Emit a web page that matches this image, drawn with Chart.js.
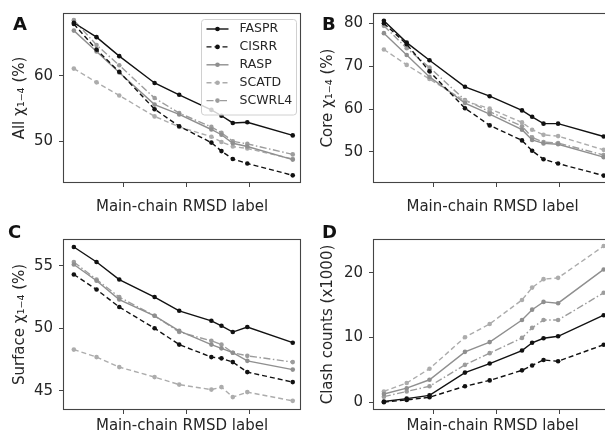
<!DOCTYPE html>
<html>
<head>
<meta charset="utf-8">
<script src="https://cdn.jsdelivr.net/npm/chart.js@4.4.1/dist/chart.umd.min.js"></script>
<style>
  body { margin: 0; background: #fff; width: 605px; height: 442px; overflow: hidden; position: relative; }
  canvas { position: absolute; }
</style>
</head>
<body>
<canvas id="panelA" width="305" height="221" style="left:0px;top:0px"></canvas>
<canvas id="panelB" width="320" height="221" style="left:300px;top:0px"></canvas>
<canvas id="panelC" width="305" height="221" style="left:0px;top:221px"></canvas>
<canvas id="panelD" width="320" height="221" style="left:300px;top:221px"></canvas>
<script>
// x 軸：主鏈 RMSD 標籤 (刻度不顯示數字)
const rmsdLabels = [0.22, 0.58, 0.94, 1.50, 1.89, 2.40, 2.56, 2.74, 2.97, 3.69];
const xTickValues = [1, 2, 3];
const methodNames = ['FASPR', 'CISRR', 'RASP', 'SCATD', 'SCWRL4'];

// A: All chi1-4 (%)
const allFASPR  = [68.1, 65.9, 63.0, 58.9, 57.1, 54.8, 53.9, 52.8, 52.9, 50.9];
const allCISRR  = [67.9, 64.0, 60.6, 54.9, 52.3, 49.8, 48.5, 47.3, 46.6, 44.8];
const allRASP   = [66.9, 63.7, 60.5, 55.6, 54.1, 51.8, 51.0, 49.7, 49.2, 47.2];
const allSCATD  = [61.1, 59.0, 57.0, 53.8, 52.2, 50.7, 49.9, 49.2, 48.9, 47.3];
const allSCWRL4 = [68.5, 64.7, 61.6, 56.6, 54.3, 52.2, 51.3, 50.0, 49.6, 48.0];
const allTicks  = [50, 60];

// B: Core chi1-4 (%)
const coreFASPR  = [80.6, 75.5, 71.4, 65.2, 63.0, 59.7, 58.2, 56.6, 56.6, 53.6];
const coreCISRR  = [80.0, 75.1, 68.8, 60.2, 56.2, 52.7, 50.3, 48.3, 47.3, 44.5];
const coreRASP   = [77.7, 72.6, 67.5, 61.4, 58.8, 55.2, 52.8, 52.0, 51.8, 48.8];
const coreSCATD  = [73.9, 70.3, 67.0, 61.9, 60.1, 56.9, 55.2, 54.0, 53.7, 50.5];
const coreSCWRL4 = [79.4, 74.2, 69.7, 62.1, 59.4, 56.0, 53.4, 52.3, 52.1, 49.3];
const coreTicks  = [50, 60, 70, 80];

// C: Surface chi1-4 (%)
const surfFASPR  = [56.5, 55.3, 53.9, 52.5, 51.4, 50.6, 50.2, 49.7, 50.1, 48.85];
const surfCISRR  = [54.3, 53.1, 51.7, 50.0, 48.7, 47.7, 47.6, 47.3, 46.5, 45.7];
const surfRASP   = [55.1, 53.8, 52.3, 51.0, 49.8, 48.7, 48.4, 48.05, 47.4, 46.7];
const surfSCATD  = [48.3, 47.7, 46.9, 46.1, 45.5, 45.1, 45.3, 44.5, 44.9, 44.2];
const surfSCWRL4 = [55.3, 53.9, 52.5, 51.0, 49.7, 49.0, 48.7, 48.05, 47.8, 47.3];
const surfTicks  = [45, 50, 55];

// D: Clash counts (x1000)
const clashFASPR  = [0.15, 0.6, 1.1, 4.6, 6.0, 8.0, 9.2, 9.9, 10.2, 13.45];
const clashCISRR  = [0.05, 0.4, 0.8, 2.5, 3.4, 4.95, 5.7, 6.55, 6.35, 8.9];
const clashRASP   = [1.3, 2.2, 3.5, 7.8, 9.3, 12.7, 14.3, 15.5, 15.3, 20.5];
const clashSCATD  = [1.7, 3.0, 5.2, 10.05, 12.1, 15.8, 17.7, 19.0, 19.2, 24.1];
const clashSCWRL4 = [0.9, 1.7, 2.5, 5.8, 7.6, 9.95, 11.5, 12.7, 12.7, 16.9];
const clashTicks  = [0, 10, 20];

// 線條樣式
const lineStyles = {
    FASPR:  { color: '#111111', dash: [] },
    CISRR:  { color: '#111111', dash: [5, 3] },
    RASP:   { color: '#8f8f8f', dash: [] },
    SCATD:  { color: '#acacac', dash: [5, 3] },
    SCWRL4: { color: '#9c9c9c', dash: [7, 2.5, 1.5, 2.5] }
};

const frameColor = '#444444';
const textColor = '#262626';
Chart.defaults.font.family = 'DejaVu Sans';

// 畫外框、面板字母與圖例
const decorPlugin = {
    id: 'decor',
    afterDraw(chart, args, opts) {
        const ctx = chart.ctx;
        const a = chart.chartArea;
        ctx.save();
        ctx.strokeStyle = frameColor;
        ctx.lineWidth = 1.1;
        ctx.strokeRect(a.left + 0.5, a.top + 0.5, a.right - a.left - 1, a.bottom - a.top - 1);

        if (opts.legend) {
            const lg = opts.legend;
            ctx.fillStyle = 'rgba(255,255,255,0.8)';
            ctx.strokeStyle = '#d0d0d0';
            ctx.lineWidth = 1;
            ctx.beginPath();
            ctx.roundRect(lg.x, lg.y, lg.w, lg.h, 3);
            ctx.fill();
            ctx.stroke();
            chart.data.datasets.forEach((ds, i) => {
                const y = lg.y + 9.5 + i * 17.9;
                ctx.strokeStyle = ds.borderColor;
                ctx.lineWidth = 1.4;
                ctx.setLineDash(ds.borderDash);
                ctx.beginPath();
                ctx.moveTo(lg.x + 5, y);
                ctx.lineTo(lg.x + 27, y);
                ctx.stroke();
                ctx.setLineDash([]);
                ctx.fillStyle = ds.borderColor;
                ctx.beginPath();
                ctx.arc(lg.x + 16, y, 2.3, 0, Math.PI * 2);
                ctx.fill();
                ctx.fillStyle = textColor;
                ctx.font = '12.5px "DejaVu Sans"';
                ctx.textBaseline = 'middle';
                ctx.fillText(ds.label, lg.x + 38, y);
            });
        }

        ctx.fillStyle = '#111';
        ctx.font = 'bold 18px "DejaVu Sans"';
        ctx.textBaseline = 'alphabetic';
        ctx.fillText(opts.letter, opts.letterX, opts.letterY);
        ctx.restore();
    }
};

function makePanel(canvasId, p) {
    const cv = document.getElementById(canvasId);
    const W = cv.width, H = cv.height;
    const datasets = methodNames.map((m, i) => ({
        label: m,
        data: rmsdLabels.map((x, j) => ({ x: x, y: p.series[i][j] })),
        borderColor: lineStyles[m].color,
        backgroundColor: lineStyles[m].color,
        borderDash: lineStyles[m].dash,
        borderWidth: 1.4,
        pointRadius: 2.3,
        pointBorderWidth: 0,
        pointBackgroundColor: lineStyles[m].color,
        tension: 0,
        fill: false
    }));

    return new Chart(cv, {
        type: 'line',
        data: { datasets: datasets },
        options: {
            responsive: false,
            animation: false,
            layout: { padding: { left: 0, top: p.area.t, right: W - p.area.r, bottom: 0 } },
            plugins: {
                legend: { display: false },
                tooltip: { enabled: false },
                decor: { letter: p.letter, letterX: p.letterX, letterY: p.letterY, legend: p.legend }
            },
            scales: {
                x: {
                    type: 'linear',
                    min: 0.048,
                    max: 3.821,
                    afterBuildTicks: s => { s.ticks = xTickValues.map(v => ({ value: v })); },
                    afterFit: s => { s.height = H - p.area.b; s.paddingLeft = 0; s.paddingRight = 0; },
                    ticks: { display: false },
                    grid: { drawOnChartArea: false, tickLength: 4, color: frameColor },
                    border: { display: false },
                    title: {
                        display: true,
                        text: 'Main-chain RMSD label',
                        color: textColor,
                        font: { size: 15 },
                        padding: { top: 0, bottom: p.xTitlePad }
                    }
                },
                y: {
                    type: 'linear',
                    min: p.yMin,
                    max: p.yMax,
                    afterBuildTicks: s => { s.ticks = p.ticks.map(v => ({ value: v })); },
                    afterFit: s => { s.width = p.area.l; s.paddingTop = 0; s.paddingBottom = 0; },
                    ticks: { color: textColor, font: { size: 15 }, padding: 6 },
                    grid: { drawOnChartArea: false, tickLength: 4, color: frameColor },
                    border: { display: false },
                    title: {
                        display: true,
                        text: p.yTitle,
                        color: textColor,
                        font: { size: 15 },
                        padding: { top: p.yTitlePad, bottom: 0 }
                    }
                }
            }
        },
        plugins: [decorPlugin]
    });
}

makePanel('panelA', {
    series: [allFASPR, allCISRR, allRASP, allSCATD, allSCWRL4],
    ticks: allTicks, yMin: 43.63, yMax: 69.59,
    yTitle: 'All χ₁₋₄ (%)', yTitlePad: 11, xTitlePad: 4.5,
    area: { l: 63, t: 13, r: 302, b: 183 },
    letter: 'A', letterX: 13, letterY: 30,
    legend: { x: 201.5, y: 19.5, w: 95, h: 95.5 }
});

makePanel('panelB', {
    series: [coreFASPR, coreCISRR, coreRASP, coreSCATD, coreSCWRL4],
    ticks: coreTicks, yMin: 42.77, yMax: 82.4,
    yTitle: 'Core χ₁₋₄ (%)', yTitlePad: 19, xTitlePad: 4.5,
    area: { l: 73, t: 13, r: 312, b: 183 },
    letter: 'B', letterX: 22, letterY: 30
});

makePanel('panelC', {
    series: [surfFASPR, surfCISRR, surfRASP, surfSCATD, surfSCWRL4],
    ticks: surfTicks, yMin: 43.47, yMax: 57.14,
    yTitle: 'Surface χ₁₋₄ (%)', yTitlePad: 11, xTitlePad: 7,
    area: { l: 63, t: 18, r: 302, b: 189 },
    letter: 'C', letterX: 8, letterY: 17
});

makePanel('panelD', {
    series: [clashFASPR, clashCISRR, clashRASP, clashSCATD, clashSCWRL4],
    ticks: clashTicks, yMin: -1.16, yMax: 25.19,
    yTitle: 'Clash counts (x1000)', yTitlePad: 18.7, xTitlePad: 7,
    area: { l: 73, t: 18, r: 312, b: 189 },
    letter: 'D', letterX: 22, letterY: 17
});
</script>
</body>
</html>
